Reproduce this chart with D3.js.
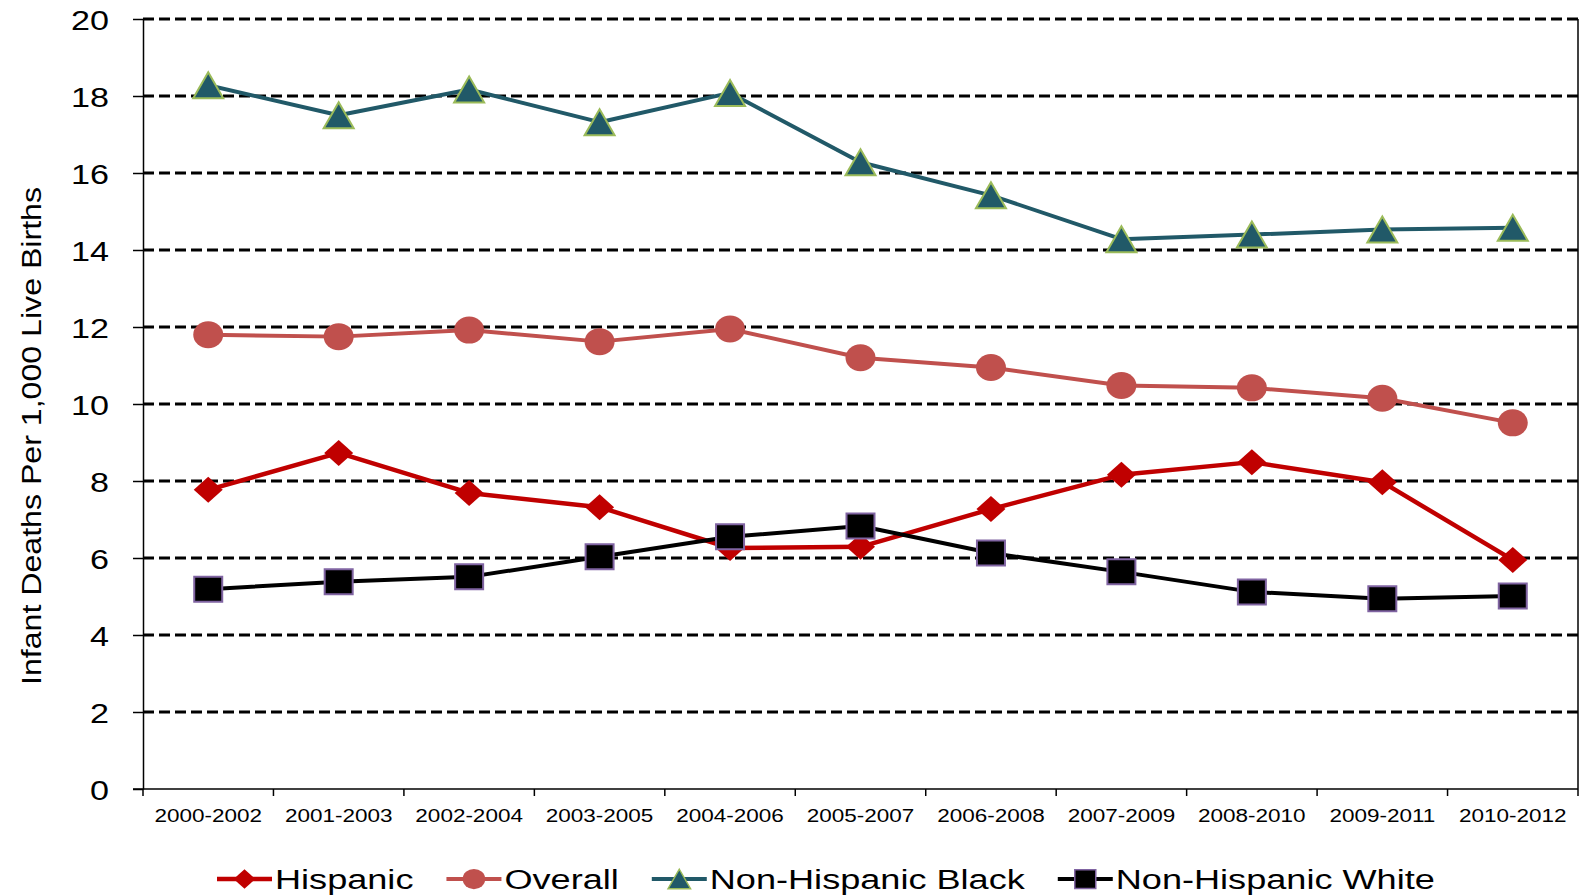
<!DOCTYPE html>
<html lang="en">
<head>
<meta charset="utf-8">
<title>Infant deaths</title>
<script src="https://cdn.jsdelivr.net/npm/d3@7"></script>
<style>
  body { margin: 0; background: #fff; }
  svg text { font-family: "Liberation Sans", Arial, sans-serif; fill: #000; }
</style>
</head>
<body>
<svg id="chart" width="1581" height="895"></svg>
<script>
// data
var periods = ["2000-2002", "2001-2003", "2002-2004", "2003-2005", "2004-2006", "2005-2007",
               "2006-2008", "2007-2009", "2008-2010", "2009-2011", "2010-2012"];
var hispanic = [7.77, 8.73, 7.69, 7.32, 6.26, 6.29, 7.27, 8.16, 8.49, 7.97, 5.95];
var overall  = [11.8, 11.75, 11.92, 11.62, 11.95, 11.2, 10.95, 10.48, 10.42, 10.15, 9.51];
var nhBlack  = [18.28, 17.5, 18.17, 17.32, 18.08, 16.28, 15.42, 14.28, 14.4, 14.53, 14.58];
var nhWhite  = [5.19, 5.38, 5.51, 6.03, 6.55, 6.83, 6.13, 5.64, 5.12, 4.94, 5.01];
var yTicks = [0, 2, 4, 6, 8, 10, 12, 14, 16, 18, 20];
var seriesNames = ["Hispanic", "Overall", "Non-Hispanic Black", "Non-Hispanic White"];

var series = [
  {name: seriesNames[0], values: hispanic, line: "#c00000", fill: "#c00000", stroke: "none", shape: "diamond", lw: 4.5},
  {name: seriesNames[1], values: overall,  line: "#c0504d", fill: "#c0504d", stroke: "none", shape: "circle", lw: 4},
  {name: seriesNames[2], values: nhBlack,  line: "#215968", fill: "#215968", stroke: "#9bbb59", shape: "triangle", lw: 4},
  {name: seriesNames[3], values: nhWhite,  line: "#000000", fill: "#000000", stroke: "#8064a2", shape: "square", lw: 4}
];

var pL = 143, pR = 1578, pT = 19, pB = 789;
var stretch = 1.22;  // the picture's text is wider than plain Arial

var svg = d3.select("#chart");

var x = d3.scaleBand().domain(periods).range([pL, pR]);
var y = d3.scaleLinear().domain([0, 20]).range([pB, pT]);
function cx(d) { return x(d) + x.bandwidth() / 2; }

function shapePath(shape, s) {
  var w = 14.5 * s, h = 13 * s;
  if (shape == "diamond") return "M0," + (-h) + "L" + w + ",0L0," + h + "L" + (-w) + ",0Z";
  if (shape == "triangle") { w = 15 * s; return "M0," + (-h) + "L" + w + "," + h + "L" + (-w) + "," + h + "Z"; }
  if (shape == "square") { w = 14 * s; h = 12.5 * s; return "M" + (-w) + "," + (-h) + "H" + w + "V" + h + "H" + (-w) + "Z"; }
  // ellipse
  w = 15 * s; h = 13.5 * s;
  return "M" + (-w) + ",0A" + w + "," + h + " 0 1,0 " + w + ",0A" + w + "," + h + " 0 1,0 " + (-w) + ",0Z";
}

// grid lines
svg.append("g").selectAll("line").data(yTicks.filter(function(t){ return t > 0; }))
  .enter().append("line")
  .attr("x1", pL).attr("x2", pR)
  .attr("y1", function(d){ return y(d); }).attr("y2", function(d){ return y(d); })
  .attr("stroke", "#000").attr("stroke-width", 3).attr("stroke-dasharray", "11,5");

// y axis
var yAxis = svg.append("g").attr("transform", "translate(" + pL + ",0)")
  .call(d3.axisLeft(y).tickValues(yTicks).tickSize(10).tickSizeOuter(0));
yAxis.select(".domain").attr("stroke", "#000").attr("stroke-width", 1.5);
yAxis.selectAll(".tick line").attr("stroke", "#000").attr("stroke-width", 1.5);
yAxis.selectAll(".tick text")
  .attr("font-size", 28).attr("font-family", "Liberation Sans, Arial, sans-serif")
  .attr("x", -34 / stretch).attr("dy", "0.36em")
  .attr("transform", "scale(" + stretch + ",1)");

// right border
svg.append("line").attr("x1", pR).attr("x2", pR).attr("y1", pT).attr("y2", pB)
  .attr("stroke", "#000").attr("stroke-width", 1.5);

// x axis
var xAxis = svg.append("g").attr("transform", "translate(0," + pB + ")")
  .call(d3.axisBottom(x).tickSize(0).tickSizeOuter(0));
xAxis.select(".domain").remove();
xAxis.selectAll(".tick text")
  .attr("font-size", 18).attr("font-family", "Liberation Sans, Arial, sans-serif")
  .attr("y", 33).attr("dy", 0)
  .attr("transform", "scale(1.25,1)");
svg.append("line").attr("x1", pL - 10).attr("x2", pR).attr("y1", pB).attr("y2", pB)
  .attr("stroke", "#000").attr("stroke-width", 1.5);
svg.append("g").selectAll("line").data(periods.map(function(p){ return x(p); }).concat([pR]))
  .enter().append("line")
  .attr("x1", function(d){ return d; }).attr("x2", function(d){ return d; })
  .attr("y1", pB).attr("y2", pB + 7)
  .attr("stroke", "#000").attr("stroke-width", 1.5);

// y title
svg.append("text")
  .attr("transform", "translate(41,436) rotate(-90) scale(1.19,1)")
  .attr("text-anchor", "middle").attr("font-size", 27)
  .text("Infant Deaths Per 1,000 Live Births");

// lines and markers
var line = d3.line().x(function(d, i){ return cx(periods[i]); }).y(function(d){ return y(d); });
series.forEach(function(s) {
  var g = svg.append("g");
  g.append("path").attr("d", line(s.values)).attr("fill", "none")
    .attr("stroke", s.line).attr("stroke-width", s.lw).attr("stroke-linejoin", "round");
  g.selectAll("path.m").data(s.values).enter().append("path").attr("class", "m")
    .attr("d", shapePath(s.shape, 1))
    .attr("transform", function(d, i){ return "translate(" + cx(periods[i]) + "," + y(d) + ")"; })
    .attr("fill", s.fill).attr("stroke", s.stroke).attr("stroke-width", 2);
});

// legend
var lx = 217, ly = 879;
series.forEach(function(s) {
  var g = svg.append("g").attr("transform", "translate(" + lx + "," + ly + ")");
  g.append("line").attr("x1", 0).attr("x2", 55).attr("y1", 0).attr("y2", 0)
    .attr("stroke", s.line).attr("stroke-width", s.lw);
  g.append("path").attr("d", shapePath(s.shape, 0.75)).attr("transform", "translate(27.5,0)")
    .attr("fill", s.fill).attr("stroke", s.stroke).attr("stroke-width", 1.5);
  var t = g.append("text").attr("transform", "translate(58,10) scale(1.29,1)")
    .attr("font-size", 28).text(s.name);
  var w = t.node().getComputedTextLength() * 1.29;
  lx += 58 + w + 33;
});
</script>
</body>
</html>
